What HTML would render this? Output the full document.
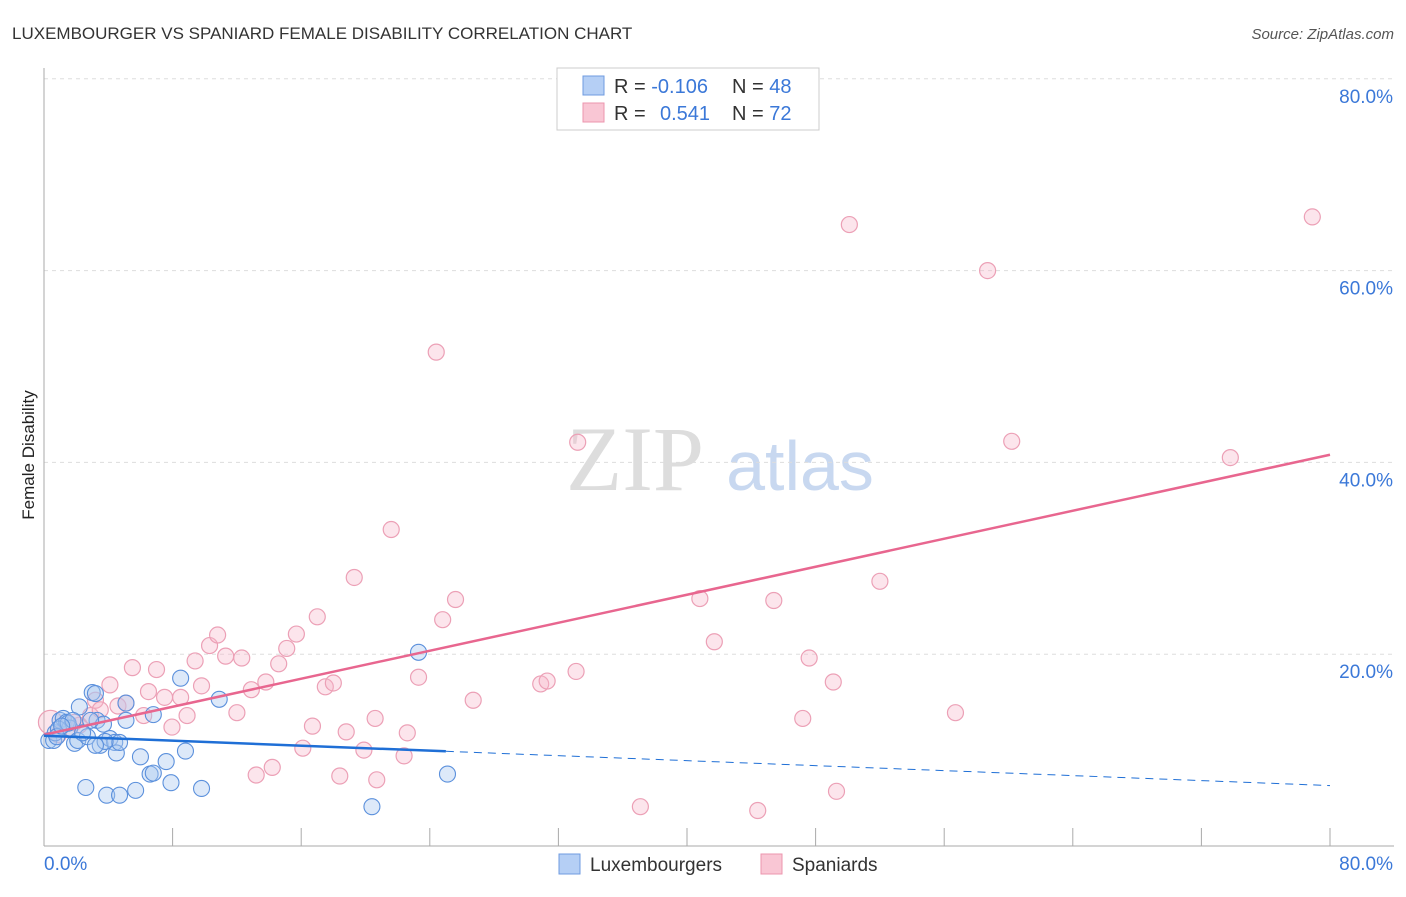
<!DOCTYPE html>
<html><head><meta charset="utf-8"><style>
body{margin:0;background:#fff;font-family:"Liberation Sans",sans-serif}
</style></head><body>
<svg id="c" width="1406" height="892" xmlns="http://www.w3.org/2000/svg">
<text x="12" y="39" font-size="17" fill="#333">LUXEMBOURGER VS SPANIARD FEMALE DISABILITY CORRELATION CHART</text>
<text x="1394" y="39" font-size="15" fill="#555" font-style="italic" text-anchor="end">Source: ZipAtlas.com</text>
<text x="34" y="455" font-size="17" fill="#222" transform="rotate(-90 34 455)" text-anchor="middle">Female Disability</text>
<text x="635" y="490" font-size="92" fill="#ddd" font-family="Liberation Serif,serif" text-anchor="middle">ZIP</text>
<text x="800" y="490" font-size="70" fill="#c8d8f0" text-anchor="middle">atlas</text>
<g id="grid"></g><g id="pts"></g><g id="lines"></g>
<g>
<rect x="557" y="68" width="262" height="62" fill="#fff" stroke="#ccc"/>
<rect x="583" y="76" width="21" height="19" fill="#b5cff5" stroke="#6f9be0"/>
<rect x="583" y="103" width="21" height="19" fill="#f9c6d4" stroke="#ec95ae"/>
<text x="614" y="93" font-size="20" fill="#333">R = <tspan fill="#3b78d8">-0.106</tspan></text>
<text x="732" y="93" font-size="20" fill="#333">N = <tspan fill="#3b78d8">48</tspan></text>
<text x="614" y="120" font-size="20" fill="#333">R = <tspan fill="#3b78d8" x="660">0.541</tspan></text>
<text x="732" y="120" font-size="20" fill="#333">N = <tspan fill="#3b78d8">72</tspan></text>
</g>
<g>
<rect x="559" y="854" width="21" height="20" fill="#b5cff5" stroke="#6f9be0"/>
<text x="590" y="871" font-size="19" fill="#333">Luxembourgers</text>
<rect x="761" y="854" width="21" height="20" fill="#f9c6d4" stroke="#ec95ae"/>
<text x="792" y="871" font-size="19" fill="#333">Spaniards</text>
</g>
</svg>
<script>
const blueX=[0.3,0.6,0.7,1.0,1.2,1.4,1.6,1.9,2.1,2.2,2.6,2.7,3.0,3.2,3.3,3.5,3.7,3.9,4.1,4.4,4.5,4.7,4.7,5.1,5.1,5.7,6.0,6.6,6.8,6.8,7.6,7.9,8.5,8.8,9.8,10.9,20.4,23.3,25.1,0.9,1.5,1.8,2.9,2.4,0.8,1.1,3.8,3.2];
const blueY=[11.0,11.0,11.8,13.1,13.3,12.9,12.3,10.7,11.0,14.5,6.1,11.4,16.0,15.9,13.1,10.5,12.7,5.3,11.2,10.8,9.7,5.3,10.8,13.1,14.9,5.8,9.3,7.5,7.6,13.7,8.8,6.6,17.5,9.9,6.0,15.3,4.1,20.2,7.5,12.2,12.8,13.1,13.1,11.8,11.4,12.5,10.9,10.5];
const pinkX=[0.4,0.9,1.6,2.2,2.9,3.2,3.5,4.1,4.6,5.1,5.5,6.2,6.5,7.0,7.5,7.96,8.5,8.9,9.4,9.8,10.3,10.8,11.3,12.0,12.3,12.9,13.2,13.8,14.2,14.6,15.1,15.7,16.1,16.7,17.0,17.5,18.0,18.4,18.8,19.3,19.9,20.6,20.7,21.6,22.4,22.6,23.3,24.4,24.8,25.6,26.7,30.9,31.3,33.1,33.2,37.1,40.8,41.7,44.4,45.4,47.2,47.6,49.1,49.3,50.1,52.0,56.7,58.7,60.2,73.8,78.9,1.9];
const pinkY=[12.9,11.6,12.3,12.6,13.6,15.2,14.2,16.8,14.6,14.9,18.6,13.6,16.1,18.4,15.5,12.4,15.5,13.6,19.3,16.7,20.9,22.0,19.8,13.9,19.6,16.3,7.4,17.1,8.2,19.0,20.6,22.1,10.2,12.5,23.9,16.6,17.0,7.3,11.9,28.0,10.0,13.3,6.9,33.0,9.4,11.8,17.6,51.5,23.6,25.7,15.2,16.9,17.2,18.2,42.1,4.1,25.8,21.3,3.7,25.6,13.3,19.6,17.1,5.7,64.8,27.6,13.9,60.0,42.2,40.5,65.6,12.9];
const yTicks=[20,40,60,80];
const xLabels=["0.0%","80.0%"];
const pinkLine=[11.6,40.8], blueLine=[11.5,6.3], blueSolidEnd=25;
const X=v=>44+v*16.075, Y=v=>846-v*9.59;
const NS="http://www.w3.org/2000/svg";
function mk(p,t,a){const e=document.createElementNS(NS,t);for(const k in a)e.setAttribute(k,a[k]);p.appendChild(e);return e;}
const g=document.getElementById('grid');
yTicks.forEach(t=>{
const l=mk(g,'line',{x1:44,x2:1394,y1:Y(t),y2:Y(t),stroke:'#ddd','stroke-dasharray':'4,4'});


const tx=mk(g,'text',{x:1393,y:Y(t)+24,'font-size':19,fill:'#3b78d8','text-anchor':'end'});tx.textContent=t.toFixed(1)+'%';


});
mk(g,'line',{x1:44,x2:44,y1:68,y2:846,stroke:'#aaa'});
mk(g,'line',{x1:44,x2:1394,y1:846,y2:846,stroke:'#aaa'});
for(let i=0;i<=10;i++){mk(g,'line',{x1:X(i*8),x2:X(i*8),y1:828,y2:846,stroke:'#aaa'});}
const xl0=mk(g,'text',{x:44,y:870,'font-size':19,fill:'#3b78d8'});xl0.textContent=xLabels[0];


const xl1=mk(g,'text',{x:1393,y:870,'font-size':19,fill:'#3b78d8','text-anchor':'end'});xl1.textContent=xLabels[1];


const P=document.getElementById('pts');
pinkX.forEach((x,i)=>{const c=mk(P,'circle',{cx:X(x),cy:Y(pinkY[i]),r:i==0?12:8,fill:'rgba(246,180,200,0.35)',stroke:'#eca0b6','stroke-width':1.2});

});
blueX.forEach((x,i)=>{const c=mk(P,'circle',{cx:X(x),cy:Y(blueY[i]),r:8,fill:'rgba(170,200,240,0.4)',stroke:'#5b90dc','stroke-width':1.1});

});
const L=document.getElementById('lines');
const pl=mk(L,'line',{x1:X(0),y1:Y(pinkLine[0]),x2:X(80),y2:Y(pinkLine[1]),stroke:'#e8668f','stroke-width':2.5});


const by=x=>blueLine[0]+(blueLine[1]-blueLine[0])*x/80;
const bl=mk(L,'line',{x1:X(0),y1:Y(blueLine[0]),x2:X(blueSolidEnd),y2:Y(by(blueSolidEnd)),stroke:'#1f6fd6','stroke-width':2.5});


const bd=mk(L,'line',{x1:X(blueSolidEnd),y1:Y(by(blueSolidEnd)),x2:X(80),y2:Y(blueLine[1]),stroke:'#1f6fd6','stroke-width':1,'stroke-dasharray':'8,6'});


</script>
</body></html>
